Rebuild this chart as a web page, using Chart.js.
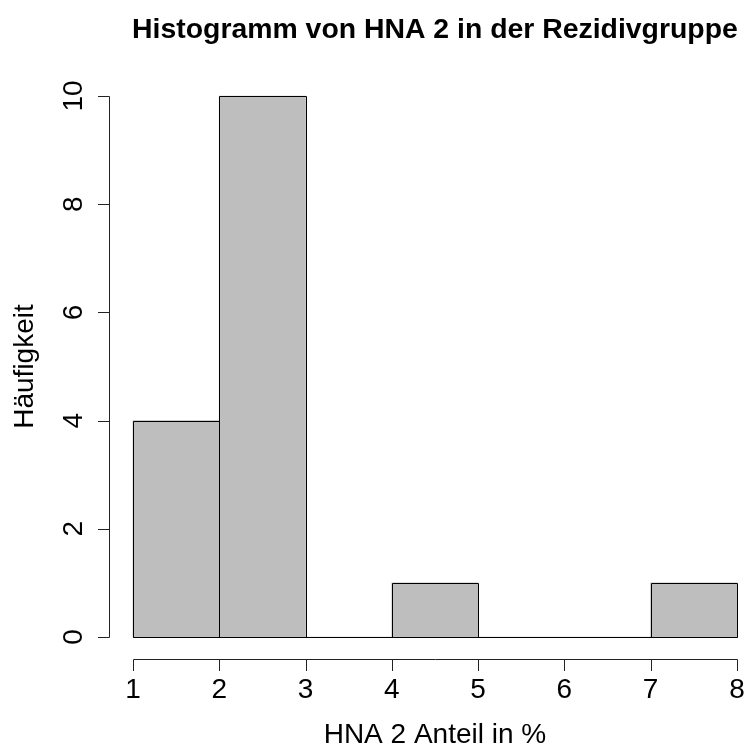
<!DOCTYPE html>
<html>
<head>
<meta charset="utf-8">
<script src="https://cdn.jsdelivr.net/npm/chart.js@4/dist/chart.umd.min.js"></script>
<style>
  html, body { margin: 0; padding: 0; background: #ffffff; }
  #c { display: block; }
</style>
</head>
<body>
<canvas id="c" width="749" height="751"></canvas>
<script>
// ---- data ----
const binEdges = [1, 2, 3, 4, 5, 6, 7, 8];
const counts = [4, 10, 0, 1, 0, 0, 1];
const xTicks = [1, 2, 3, 4, 5, 6, 7, 8];
const yTicks = [0, 2, 4, 6, 8, 10];
const titleText = "Histogramm von HNA 2 in der Rezidivgruppe";
const xLabel = "HNA 2 Anteil in %";
const yLabel = "Häufigkeit";

const points = counts.map((c, i) => ({ x: (binEdges[i] + binEdges[i + 1]) / 2, y: c }));

const FONT = '"Liberation Sans", Arial, Helvetica, sans-serif';

const rAxes = {
  id: 'rAxes',
  afterDatasetsDraw(chart) {
    const ctx = chart.ctx;
    const xs = chart.scales.x, ys = chart.scales.y;
    const area = chart.chartArea;
    const snap = v => Math.round(v) + 0.5;
    ctx.save();
    ctx.strokeStyle = '#000';
    ctx.lineWidth = 1;

    // crisp bar outlines from the library's bar elements
    const meta = chart.getDatasetMeta(0);
    meta.data.forEach(el => {
      const p = el.getProps(['x', 'y', 'base', 'width'], true);
      const l = snap(p.x - p.width / 2), r = snap(p.x + p.width / 2);
      const t = snap(Math.min(p.y, p.base)), b = snap(Math.max(p.y, p.base));
      ctx.beginPath();
      ctx.rect(l, t, r - l, b - t);
      ctx.stroke();
    });
    // baseline (zero-height bins)
    const y0 = snap(ys.getPixelForValue(0));
    ctx.beginPath();
    ctx.moveTo(snap(xs.getPixelForValue(binEdges[0])), y0);
    ctx.lineTo(snap(xs.getPixelForValue(binEdges[binEdges.length - 1])), y0);
    ctx.stroke();

    const tick = 11.5;
    ctx.strokeStyle = '#222';
    // x axis
    const ax = snap(area.bottom);
    ctx.beginPath();
    ctx.moveTo(snap(xs.getPixelForValue(xTicks[0])), ax);
    ctx.lineTo(snap(xs.getPixelForValue(xTicks[xTicks.length - 1])), ax);
    xTicks.forEach(v => {
      const px = snap(xs.getPixelForValue(v));
      ctx.moveTo(px, ax);
      ctx.lineTo(px, ax + tick);
    });
    // y axis
    const ay = snap(area.left);
    ctx.moveTo(ay, snap(ys.getPixelForValue(yTicks[0])));
    ctx.lineTo(ay, snap(ys.getPixelForValue(yTicks[yTicks.length - 1])));
    yTicks.forEach(v => {
      const py = snap(ys.getPixelForValue(v));
      ctx.moveTo(ay, py);
      ctx.lineTo(ay - tick, py);
    });
    ctx.stroke();

    // tick labels
    ctx.fillStyle = '#000';
    ctx.font = '28px ' + FONT;
    ctx.textAlign = 'center';
    ctx.textBaseline = 'alphabetic';
    xTicks.forEach(v => {
      ctx.fillText(String(v), xs.getPixelForValue(v), 698);
    });
    yTicks.forEach(v => {
      ctx.save();
      ctx.translate(82, ys.getPixelForValue(v));
      ctx.rotate(-Math.PI / 2);
      ctx.fillText(String(v), 0, 0);
      ctx.restore();
    });

    // axis titles
    const plotCenterX = xs.getPixelForValue(4.5);
    ctx.fillText(xLabel, plotCenterX, 743);
    ctx.save();
    ctx.translate(33, ys.getPixelForValue(5));
    ctx.rotate(-Math.PI / 2);
    ctx.fillText(yLabel, 0, 0);
    ctx.restore();

    // main title
    ctx.font = 'bold 28.4px ' + FONT;
    ctx.fillText(titleText, plotCenterX, 38);
    ctx.restore();
  }
};

new Chart(document.getElementById('c'), {
  type: 'bar',
  data: {
    datasets: [{
      data: points,
      backgroundColor: '#bebebe',
      borderWidth: 0,
      barPercentage: 1,
      categoryPercentage: 1
    }]
  },
  options: {
    responsive: false,
    animation: false,
    devicePixelRatio: 1,
    layout: { padding: { left: 108.8, right: 0, top: 74.4, bottom: 92.4 } },
    plugins: { legend: { display: false }, tooltip: { enabled: false }, title: { display: false } },
    scales: {
      x: { type: 'linear', min: 0.72, max: 8.14, display: false, offset: false },
      y: { type: 'linear', min: -0.4, max: 10.4, display: false }
    }
  },
  plugins: [rAxes]
});
</script>
</body>
</html>
